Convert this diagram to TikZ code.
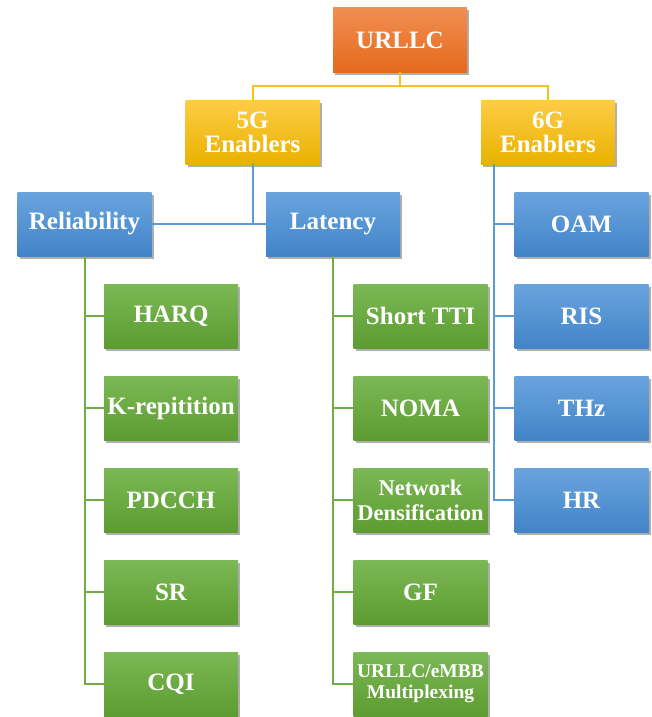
\documentclass[tikz,border=0pt]{standalone}
\usepackage{fontspec}
\setmainfont{Liberation Serif}
\usetikzlibrary{shadows}

\definecolor{orTop}{RGB}{242,142,82}
\definecolor{orBot}{RGB}{228,106,28}
\definecolor{auTop}{RGB}{255,204,70}
\definecolor{auBot}{RGB}{232,178,0}
\definecolor{blTop}{RGB}{106,164,222}
\definecolor{blBot}{RGB}{66,132,200}
\definecolor{grTop}{RGB}{124,184,86}
\definecolor{grBot}{RGB}{92,156,48}
\definecolor{auLine}{RGB}{250,192,30}
\definecolor{blLine}{RGB}{91,155,213}
\definecolor{grLine}{RGB}{112,173,71}

\tikzset{
  box/.style={rectangle, minimum width=134pt, minimum height=64pt, inner sep=0pt,
    align=center, text=white, font=\bfseries\fontsize{25}{24}\selectfont,
    drop shadow={shadow xshift=2pt, shadow yshift=-2.5pt, opacity=0.45, fill=black!70}},
  orbox/.style={box, top color=orTop, bottom color=orBot},
  aubox/.style={box, top color=auTop, bottom color=auBot},
  blbox/.style={box, top color=blTop, bottom color=blBot},
  grbox/.style={box, top color=grTop, bottom color=grBot},
  auwire/.style={draw=auLine, line width=2pt},
  blwire/.style={draw=blLine, line width=2pt},
  grwire/.style={draw=grLine, line width=2pt},
}

\begin{document}
\begin{tikzpicture}[x=1pt, y=-1pt]
\useasboundingbox (0,0) rectangle (651,717);

% top levels
\node[orbox] (urllc) at (400,40) {URLLC};
\node[aubox] (g5) at (252.5,132) {5G\\Enablers};
\node[aubox] (g6) at (548,132) {6G\\Enablers};
\node[blbox] (rel) at (84.5,224) {Reliability};
\node[blbox] (lat) at (333,224) {Latency};

% reliability techniques
\node[grbox] (harq) at (171,316) {HARQ};
\node[grbox] (krep) at (171,408) {K-repitition};
\node[grbox] (pdcch) at (171,500) {PDCCH};
\node[grbox] (sr) at (171,592) {SR};
\node[grbox] (cqi) at (171,684) {CQI};

% latency techniques
\node[grbox] (stti) at (420.5,316) {Short TTI};
\node[grbox] (noma) at (420.5,408) {NOMA};
\node[grbox, font=\bfseries\fontsize{22.5}{25}\selectfont] (nd) at (420.5,500) {Network\\Densification};
\node[grbox] (gf) at (420.5,592) {GF};
\node[grbox, font=\bfseries\fontsize{19.5}{21}\selectfont] (mux) at (420.5,684) {URLLC/eMBB\\Multiplexing};

% 6G techniques
\node[blbox] (oam) at (581.5,224) {OAM};
\node[blbox] (ris) at (581.5,316) {RIS};
\node[blbox] (thz) at (581.5,408) {THz};
\node[blbox] (hr) at (581.5,500) {HR};

% connectors
\draw[auwire] (urllc.south) -- ++(0,14) coordinate (ubus) -| (g5.north);
\draw[auwire] (ubus) -| (g6.north);

\draw[blwire] (g5.south) -- (g5.south |- rel.east);
\draw[blwire] (rel.east) -- (lat.west);

\draw[grwire] (rel.south) |- (cqi.west);
\foreach \n in {harq,krep,pdcch,sr}
  \draw[grwire] (rel.south |- \n.west) -- (\n.west);

\draw[grwire] (lat.south) |- (mux.west);
\foreach \n in {stti,noma,nd,gf}
  \draw[grwire] (lat.south |- \n.west) -- (\n.west);

\coordinate (g6bus) at ([xshift=13pt]g6.south west);
\draw[blwire] (g6bus) |- (hr.west);
\foreach \n in {oam,ris,thz}
  \draw[blwire] (g6bus |- \n.west) -- (\n.west);
\end{tikzpicture}
\end{document}
